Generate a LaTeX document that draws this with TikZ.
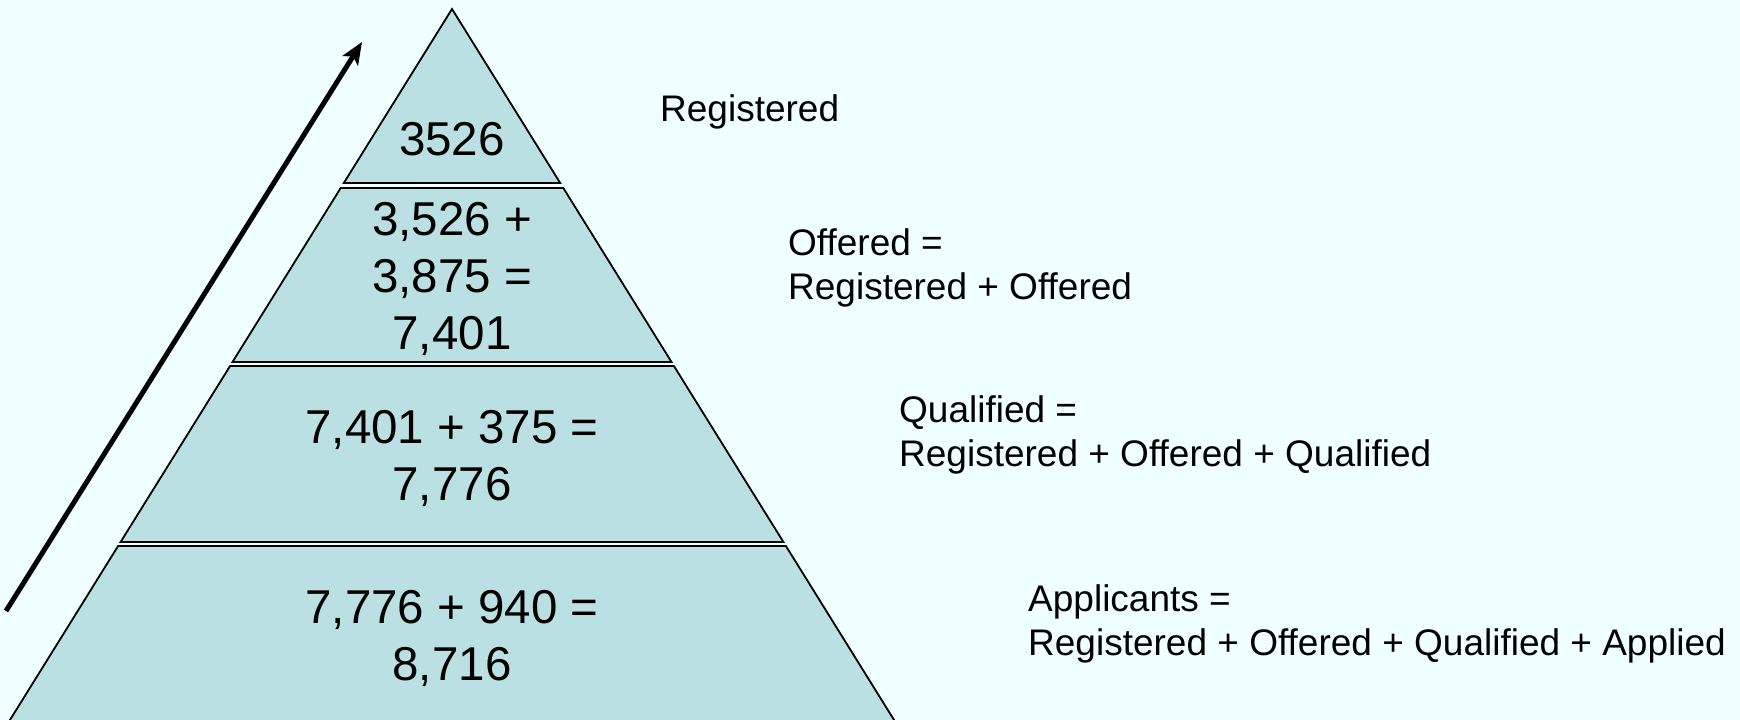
\documentclass[tikz,border=0pt]{standalone}
\usepackage{fontspec}
\setmainfont{Liberation Sans}
\usetikzlibrary{arrows.meta}
\definecolor{bgcol}{RGB}{240,255,255}
\definecolor{tiercol}{RGB}{186,224,227}
\begin{document}
\begin{tikzpicture}[x=1pt,y=-1pt,
  tier/.style={fill=tiercol,draw=black,line width=1.8pt,line join=miter},
  num/.style={align=center,inner sep=0pt,font=\fontsize{47.5}{57}\selectfont},
  lbl/.style={anchor=west,align=left,inner sep=0pt,font=\fontsize{37}{44}\selectfont},
  uparrow/.style={line width=5pt,-{Stealth[length=22pt,width=18pt,inset=5pt]}}]
\path[use as bounding box,fill=bgcol] (0,0) rectangle (1740,720);
\clip (0,0) rectangle (1740,720);
% pyramid tiers
\path[tier] (452,9) -- (560.2,183) -- (343.8,183) -- cycle;
\path[tier] (340.7,188) -- (563.3,188) -- (671.5,362) -- (232.5,362) -- cycle;
\path[tier] (230.1,366) -- (673.9,366) -- (783.4,542) -- (120.6,542) -- cycle;
\path[tier] (118.1,546) -- (785.9,546) -- (895.3,722) -- (8.7,722) -- cycle;
% numbers
\node[num] (t1) at (452,139) {3526};
\node[num] (t2) at (452,279) {3,526 +\\3,875 =\\7,401};
\node[num] (t3) at (452,458) {7,401 + 375 =\\7,776};
\node[num] (t4) at (452,638) {7,776 + 940 =\\8,716};
% labels
\node[lbl] (l1) at (660,112) {Registered};
\node[lbl] (l2) at (788,268) {Offered =\\Registered + Offered};
\node[lbl] (l3) at (899,435) {Qualified =\\Registered + Offered + Qualified};
\node[lbl] (l4) at (1028,624) {Applicants =\\Registered + Offered + Qualified + Applied};
% arrow
\coordinate (as) at (6,611);
\coordinate (ae) at (362,42);
\draw[uparrow] (as) -- (ae);
\end{tikzpicture}
\end{document}
